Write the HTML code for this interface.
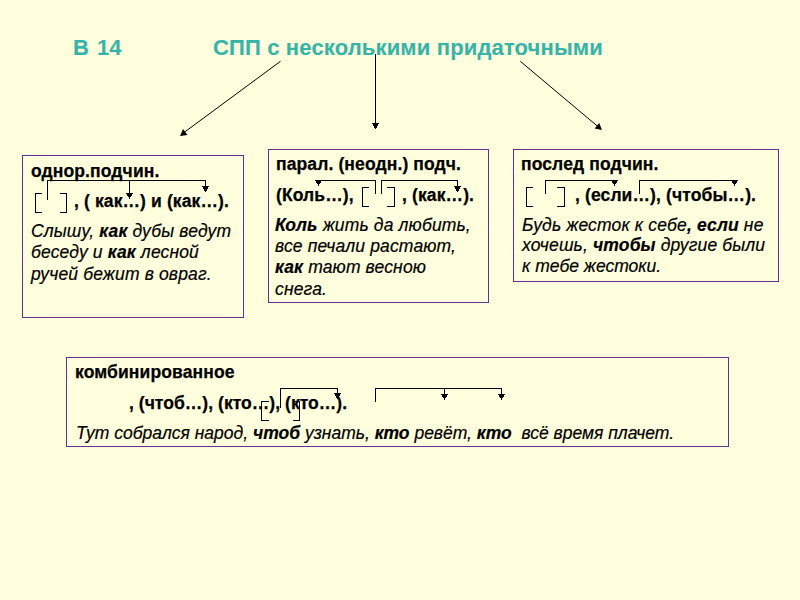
<!DOCTYPE html>
<html><head><meta charset="utf-8">
<style>
html,body{margin:0;padding:0;}
body{width:800px;height:600px;background:#FFFFDD;position:relative;overflow:hidden;font-family:"Liberation Sans",sans-serif;color:#000;}
.t{position:absolute;white-space:pre;line-height:1;-webkit-text-stroke:0.25px currentColor;}
.ttl{font-size:22px;font-weight:bold;color:#36B4A8;letter-spacing:0.15px;-webkit-text-stroke:0.1px currentColor;}
.bx{position:absolute;box-sizing:border-box;border:1px solid #682E94;}
.b{font-weight:bold;font-size:17.5px;letter-spacing:0.12px;}
.i{font-style:italic;font-size:17.5px;letter-spacing:0.15px;-webkit-text-stroke:0.2px currentColor;}
.i b{font-weight:bold;}
svg{position:absolute;left:0;top:0;}
</style></head><body>
<div class="t ttl" style="left:73px;top:37px;word-spacing:1.6px">В 14</div>
<div class="t ttl" style="left:213px;top:37px">СПП с несколькими придаточными</div>

<div class="bx" style="left:22px;top:155px;width:222px;height:163px"></div>
<div class="bx" style="left:268px;top:149px;width:221px;height:154px"></div>
<div class="bx" style="left:513px;top:149px;width:266px;height:133px"></div>
<div class="bx" style="left:66px;top:357px;width:663px;height:90px"></div>

<!-- box1 -->
<div class="t b" style="left:31px;top:163px">однор.подчин.</div>
<div class="t b" style="left:74px;top:193px">, ( как…) и (как…).</div>
<div class="t i" style="left:31px;top:223px">Слышу, <b>как</b> дубы ведут</div>
<div class="t i" style="left:31px;top:244px">беседу и <b>как</b> лесной</div>
<div class="t i" style="left:31px;top:266px">ручей бежит в овраг.</div>

<!-- box2 -->
<div class="t b" style="left:276px;top:156px">парал. (неодн.) подч.</div>
<div class="t b" style="left:276px;top:187px">(Коль…),</div>
<div class="t b" style="left:402px;top:187px">, (как…).</div>
<div class="t i" style="left:275px;top:217px"><b>Коль</b> жить да любить,</div>
<div class="t i" style="left:275px;top:238px">все печали растают,</div>
<div class="t i" style="left:275px;top:259px"><b>как</b> тают весною</div>
<div class="t i" style="left:275px;top:281px">снега.</div>

<!-- box3 -->
<div class="t b" style="left:521px;top:156px">послед подчин.</div>
<div class="t b" style="left:575px;top:187px">, (если…), (чтобы…).</div>
<div class="t i" style="left:522px;top:217px">Будь жесток к себе<b>, если</b> не</div>
<div class="t i" style="left:522px;top:237px">хочешь, <b>чтобы</b> другие были</div>
<div class="t i" style="left:522px;top:258px;letter-spacing:0">к тебе жестоки.</div>

<!-- box4 -->
<div class="t b" style="left:75px;top:364px">комбинированное</div>
<div class="t b" style="left:129px;top:395px;letter-spacing:0.04px">, (чтоб…), (кто…), (кто…).</div>
<div class="t i" style="left:76px;top:425px;letter-spacing:0">Тут собрался народ, <b>чтоб</b> узнать, <b>кто</b> ревёт, <b>кто</b>  всё время плачет.</div>

<svg width="800" height="600" viewBox="0 0 800 600" shape-rendering="crispEdges">
<g stroke="#000" stroke-width="1" fill="none">
<line x1="280.5" y1="61.3" x2="184" y2="132.5" shape-rendering="auto"/>
<path d="M375.5 54V124"/>
<line x1="520.3" y1="61.3" x2="597.5" y2="126.2" shape-rendering="auto"/>
<path d="M35.5 193V213M35 193.5H42M35 212.5H42"/>
<path d="M66.5 193V213M60 193.5H67M60 212.5H67"/>
<path d="M47.5 200V180M47 180.5H206M205.5 180V187M129.5 180V193"/>
<path d="M362.5 187V207M362 187.5H369M362 206.5H369"/>
<path d="M394.5 187V207M387 187.5H395M387 206.5H395"/>
<path d="M315 180.5H376M375.5 180V194"/>
<path d="M381.5 194V180M381 180.5H458M457.5 180V187"/>
<path d="M526.5 187V207M526 187.5H533M526 206.5H533"/>
<path d="M564.5 187V207M557 187.5H565M557 206.5H565"/>
<path d="M545.5 194V180M545 180.5H615"/>
<path d="M639.5 194V180M639 180.5H735"/>
<path d="M261.5 401V421M261 401.5H269M261 420.5H269"/>
<path d="M299.5 401V421M293 401.5H300M293 420.5H300"/>
<path d="M280.5 408V388M280 388.5H338M337.5 388V394"/>
<path d="M375.5 402V388M375 388.5H502M501.5 388V394M444.5 388V394"/>
</g>
<g fill="#000" stroke="none">
<polygon points="180,136 187.5,135 183,129" shape-rendering="auto"/>
<polygon points="372,123 379,123 375.5,129.5"/>
<polygon points="602,130 594.6,128.5 599.2,122.9" shape-rendering="auto"/>
<polygon points="126,193 133,193 129.5,199"/>
<polygon points="202,186 209,186 205.5,192.5"/>
<polygon points="315,180 322,180 318.5,186"/>
<polygon points="454,186 461,186 457.5,192.5"/>
<polygon points="611,180 618,180 614.5,186"/>
<polygon points="731,180 738,180 734.5,186"/>
<polygon points="334,393 341,393 337.5,399.5"/>
<polygon points="441,394 448,394 444.5,400"/>
<polygon points="498,394 505,394 501.5,400"/>
</g>
</svg>
</body></html>
